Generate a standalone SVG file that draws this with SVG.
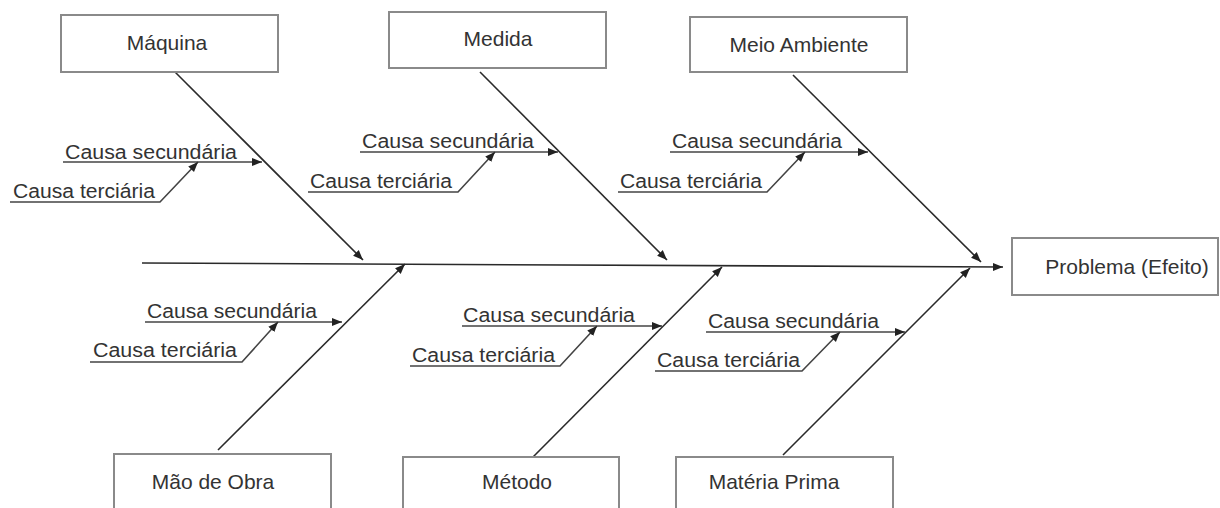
<svg xmlns="http://www.w3.org/2000/svg" width="1220" height="508" viewBox="0 0 1220 508">
<style>
.box{fill:#fff;stroke:#8a8a8a;stroke-width:2}
.lbl{font-family:"Liberation Sans",Arial,sans-serif;font-size:21px;fill:#333;text-anchor:middle}
.cause{font-family:"Liberation Sans",Arial,sans-serif;font-size:20px;fill:#333}
.bone{stroke:#2a2a2a;stroke-width:1.6;fill:none}
.sub{stroke:#444;stroke-width:1.6;fill:none}
</style>
<defs>
<marker id="ah" viewBox="0 0 10 10" refX="10" refY="5" markerWidth="10" markerHeight="10" markerUnits="userSpaceOnUse" orient="auto">
<path d="M0,1 L10,5 L0,9 z" fill="#222"/>
</marker>
</defs>
<rect width="1220" height="508" fill="#fff"/>

<g id="connectors">
<line class="bone" x1="142" y1="263" x2="1003" y2="267" marker-end="url(#ah)"/>
<line class="bone" x1="175" y1="72" x2="363" y2="260" marker-end="url(#ah)"/>
<line class="bone" x1="480" y1="72" x2="667" y2="260" marker-end="url(#ah)"/>
<line class="bone" x1="793" y1="75" x2="981" y2="262" marker-end="url(#ah)"/>
<line class="bone" x1="218" y1="450" x2="405" y2="264" marker-end="url(#ah)"/>
<line class="bone" x1="533" y1="457" x2="722" y2="267" marker-end="url(#ah)"/>
<line class="bone" x1="783" y1="455" x2="970" y2="268" marker-end="url(#ah)"/>

<polyline class="sub" points="63,162 262,162" marker-end="url(#ah)"/>
<polyline class="sub" points="10,202 160,202 198,162" marker-end="url(#ah)"/>
<polyline class="sub" points="360,152 558,152" marker-end="url(#ah)"/>
<polyline class="sub" points="308,192 458,192 495,152" marker-end="url(#ah)"/>
<polyline class="sub" points="670,152 868,152" marker-end="url(#ah)"/>
<polyline class="sub" points="618,192 767,192 805,152" marker-end="url(#ah)"/>

<polyline class="sub" points="145,322 342,322" marker-end="url(#ah)"/>
<polyline class="sub" points="90,362 242,362 278,322" marker-end="url(#ah)"/>
<polyline class="sub" points="462,326 662,326" marker-end="url(#ah)"/>
<polyline class="sub" points="410,366 560,366 597,326" marker-end="url(#ah)"/>
<polyline class="sub" points="706,332 905,332" marker-end="url(#ah)"/>
<polyline class="sub" points="655,371 802,371 840,332" marker-end="url(#ah)"/>
</g>

<g id="causes">
<text class="cause" x="65" y="159" textLength="172" lengthAdjust="spacingAndGlyphs">Causa secundária</text>
<text class="cause" x="13" y="198" textLength="142" lengthAdjust="spacingAndGlyphs">Causa terciária</text>
<text class="cause" x="362" y="148" textLength="172" lengthAdjust="spacingAndGlyphs">Causa secundária</text>
<text class="cause" x="310" y="188" textLength="142" lengthAdjust="spacingAndGlyphs">Causa terciária</text>
<text class="cause" x="672" y="148" textLength="170" lengthAdjust="spacingAndGlyphs">Causa secundária</text>
<text class="cause" x="620" y="188" textLength="142" lengthAdjust="spacingAndGlyphs">Causa terciária</text>
<text class="cause" x="147" y="318" textLength="170" lengthAdjust="spacingAndGlyphs">Causa secundária</text>
<text class="cause" x="93" y="357" textLength="144" lengthAdjust="spacingAndGlyphs">Causa terciária</text>
<text class="cause" x="463" y="322" textLength="172" lengthAdjust="spacingAndGlyphs">Causa secundária</text>
<text class="cause" x="412" y="362" textLength="143" lengthAdjust="spacingAndGlyphs">Causa terciária</text>
<text class="cause" x="708" y="328" textLength="171" lengthAdjust="spacingAndGlyphs">Causa secundária</text>
<text class="cause" x="657" y="367" textLength="143" lengthAdjust="spacingAndGlyphs">Causa terciária</text>
</g>

<g id="maquina"><rect class="box" x="61" y="15" width="217" height="57"/><text class="lbl" x="167" y="50">Máquina</text></g>
<g id="medida"><rect class="box" x="389" y="12" width="217" height="56"/><text class="lbl" x="498" y="46">Medida</text></g>
<g id="meio-ambiente"><rect class="box" x="690" y="17" width="217" height="55"/><text class="lbl" x="799" y="52">Meio Ambiente</text></g>
<g id="mao-de-obra"><rect class="box" x="114" y="454" width="217" height="70"/><text class="lbl" x="213" y="489">Mão de Obra</text></g>
<g id="metodo"><rect class="box" x="403" y="457" width="216" height="70"/><text class="lbl" x="517" y="489">Método</text></g>
<g id="materia-prima"><rect class="box" x="676" y="457" width="217" height="70"/><text class="lbl" x="774" y="489">Matéria Prima</text></g>
<g id="problema"><rect class="box" x="1012" y="238" width="206" height="57"/><text class="lbl" x="1127" y="274">Problema (Efeito)</text></g>
</svg>
